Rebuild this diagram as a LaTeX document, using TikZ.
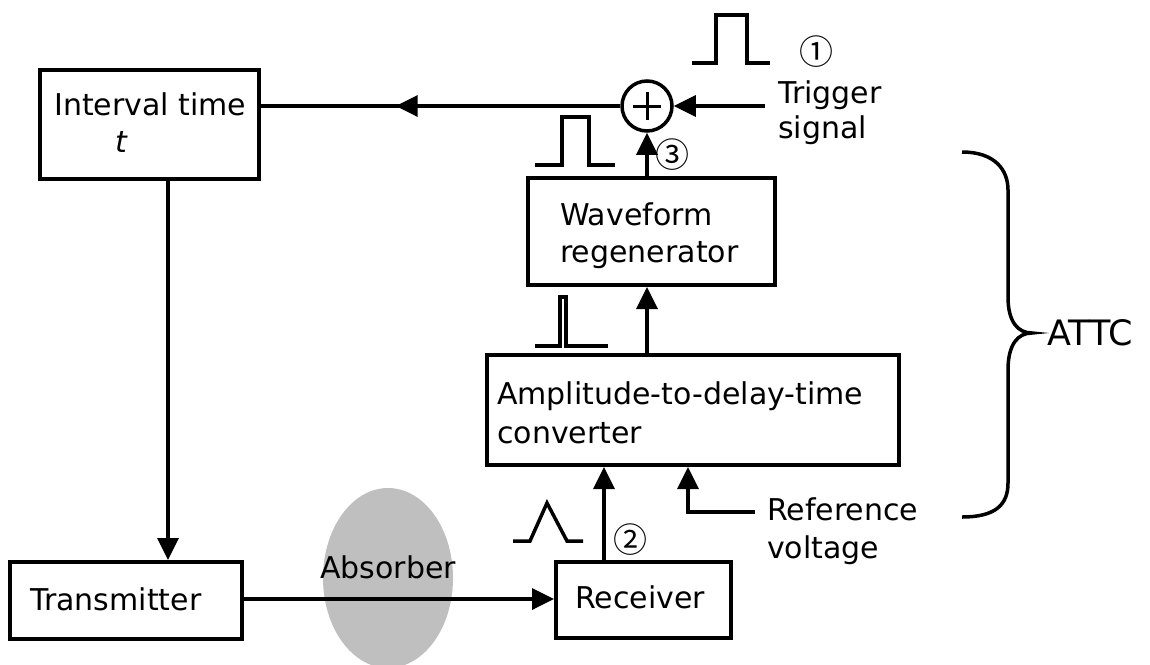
\documentclass[tikz,border=0pt]{standalone}
\usepackage{fontspec}
\setmainfont{DejaVu Sans}
\newfontfamily\circfont{Noto Sans CJK JP}
\usetikzlibrary{arrows.meta,shapes.geometric,calc}
\begin{document}
\begin{tikzpicture}[x=1pt,y=-1pt,
  blk/.style={draw,line width=4pt,inner sep=0pt},
  conn/.style={line width=3.5pt},
  arr/.style={conn,-{Triangle[length=22pt,width=21pt]}},
  txt/.style={anchor=base west,inner sep=0pt,font=\fontsize{30}{36}\selectfont},
  num/.style={inner sep=0pt,font=\circfont\fontsize{34}{38}\selectfont},
  pulse/.style={line width=3.5pt,line join=miter}]
\useasboundingbox (0,0) rectangle (1150,664);
% absorber
\node[ellipse,fill=black!25,minimum width=130pt,minimum height=180pt,inner sep=0pt] (abs) at (388,578) {};
% blocks
\node[blk,minimum width=219pt,minimum height=109pt] (interval) at (149.5,124.5) {};
\node[blk,minimum width=247pt,minimum height=107pt] (wave) at (651.5,231.5) {};
\node[blk,minimum width=412pt,minimum height=110pt] (adtc) at (693,410) {};
\node[blk,minimum width=175pt,minimum height=76pt] (recv) at (643.5,600) {};
\node[blk,minimum width=232pt,minimum height=77pt] (trans) at (126,600.5) {};
\node[draw,circle,line width=3.5pt,minimum size=50pt,inner sep=0pt] (sum) at (647,106) {};
\draw[line width=3pt] (sum.center) ++(-14,0) -- ++(28,0) (sum.center) ++(0,-14) -- ++(0,28);
% texts
\node[txt] (tint) at (54,115) {Interval time};
\node[txt] (tt) at (115,152) {\itshape t};
\node[txt] (twave1) at (560,225) {Waveform};
\node[txt] (twave2) at (560,262) {regenerator};
\node[txt] (tadtc1) at (497,404) {Amplitude-to-delay-time};
\node[txt] (tadtc2) at (497,443) {converter};
\node[txt] (trecv) at (575,608) {Receiver};
\node[txt] (ttrans) at (30,610) {Transmitter};
\node[txt] (tabs) at (320,578) {Absorber};
\node[txt] (tref1) at (767,520) {Reference};
\node[txt] (tref2) at (767,558) {voltage};
\node[txt] (ttrig1) at (778,103) {Trigger};
\node[txt] (ttrig2) at (778,138) {signal};
\node[anchor=west,inner sep=0pt,font=\fontsize{35}{42}\selectfont] (tattc) at (1047,333) {ATTC};
\node[num] (n1) at (816,52) {①};
\node[num] (n3) at (672,155) {③};
\node[num] (n2) at (630,540) {②};
% coordinates
\coordinate (trig) at (765,106);
\coordinate (ref) at (755,512);
\coordinate (rx) at (604,0);
\coordinate (rvx) at (688,0);
\coordinate (ix) at (168,0);
% connectors
\draw[conn] (sum.west) -- (sum.west -| interval.east);
\draw[arr] (sum.west) -- ($(sum.west)!0.625!(sum.west -| interval.east)$);
\draw[arr] (trig) -- (sum.east);
\draw[arr] (sum.south |- wave.north) -- (sum.south);
\draw[arr] (sum.south |- adtc.north) -- (sum.south |- wave.south);
\draw[arr] (rx |- recv.north) -- (rx |- adtc.south);
\draw[arr] (ref) -- (rvx |- ref) -- (rvx |- adtc.south);
\draw[arr] (ix |- interval.south) -- (ix |- trans.north);
\draw[arr] ([yshift=1.5pt]trans.east) -- ([yshift=1.5pt]trans.east -| recv.west);
% pulses
\draw[pulse] (692,63) -- (716,63) -- (716,15) -- (747,15) -- (747,63) -- (770,63);
\draw[pulse] (535,165) -- (562,165) -- (562,117) -- (589,117) -- (589,165) -- (615,165);
\draw[pulse] (535,346) -- (560,346) -- (560,297) -- (566,297) -- (566,346) -- (608,346);
\draw[pulse] (513,541) -- (530,541) -- (547,503) -- (567,541) -- (583,541);
% brace
\draw[line width=3.5pt] (962,152) .. controls (995,152) and (1008,170) .. (1008,190)
  -- (1008,297) .. controls (1008,322) and (1018,333) .. (1032,333)
  .. controls (1018,333) and (1008,344) .. (1008,370)
  -- (1008,483) .. controls (1008,505) and (995,517) .. (962,517);
\end{tikzpicture}
\end{document}
